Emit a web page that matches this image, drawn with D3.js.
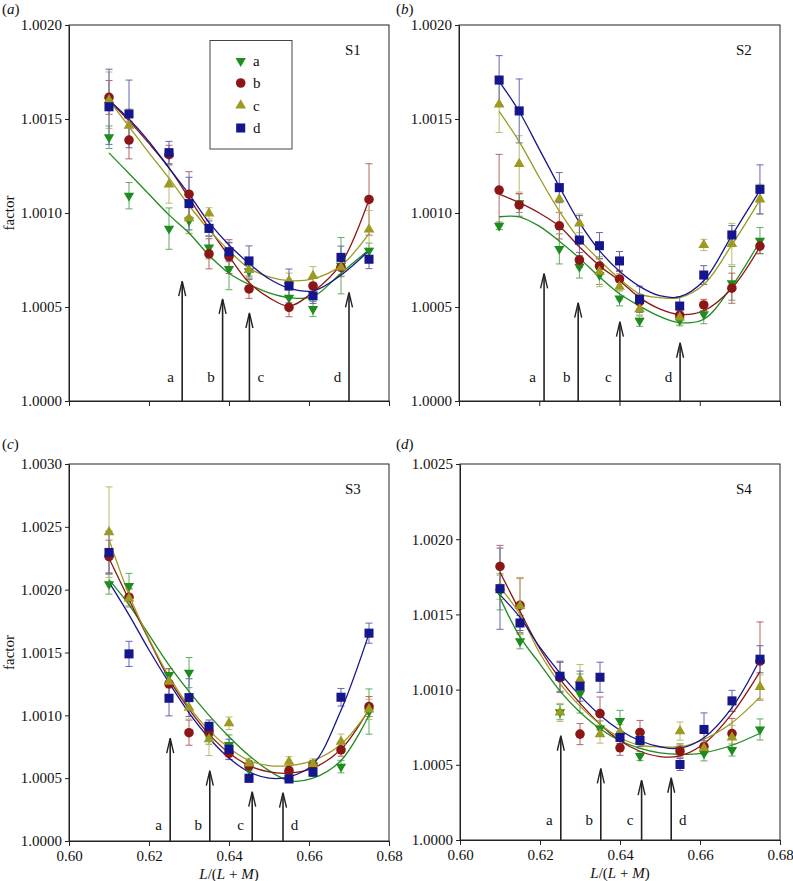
<!DOCTYPE html>
<html><head><meta charset="utf-8">
<script src="https://cdn.jsdelivr.net/npm/d3@7"></script>
<style>
body{margin:0;background:#fff;}
svg text{font-family:"Liberation Serif","Times New Roman",serif;fill:#111;}
</style></head>
<body><svg id="c" width="793" height="881"></svg>
<script>
// ---------- DATA ----------
const xValues = [0.610, 0.615, 0.625, 0.630, 0.635, 0.640, 0.645, 0.655, 0.661, 0.668, 0.675];
const seriesNames = ["a", "b", "c", "d"];
const fitX = [0.610, 0.615, 0.620, 0.625, 0.630, 0.635, 0.640, 0.645, 0.650, 0.655, 0.661, 0.668, 0.675];

// S1
const s1A = [1.001403, 1.001092, 1.000917, 1.00096, 1.000816, 1.000702, 1.00069, 1.00055, 1.000489, 1.00072, 1.0008];
const s1B = [1.001615, 1.001388, 1.00131, 1.0011, 1.000783, 1.000768, 1.000596, 1.000498, 1.000612, 1.000711, 1.001072];
const s1C = [1.0016, 1.001464, 1.001152, 1.000972, 1.000998, 1.00079, 1.000697, 1.00064, 1.000665, 1.00071, 1.000913];
const s1D = [1.001565, 1.001527, 1.001321, 1.00105, 1.000918, 1.000794, 1.000745, 1.000612, 1.000559, 1.000764, 1.000754];
const e1A = [0.00006, 0.00007, 0.00011, 0.00007, 0.00006, 0.00011, 0.00004, 0.00004, 0.00004, 0.00015, 0.00004];
const e1B = [0.00009, 0.0001, 0.00005, 0.00012, 0.00008, 0.00009, 0.00005, 0.00005, 0.00004, 0.00005, 0.00019];
const e1C = [0.00015, 0.00009, 0.0001, 0.00008, 0.00003, 0.00005, 0.00004, 0.00004, 0.00005, 0.00004, 0.0001];
const e1D = [0.0002, 0.00018, 0.00006, 0.00014, 0.00004, 0.00005, 0.00008, 0.00009, 0.00004, 0.00006, 0.00005];
const f1A = [1.00132, 1.00121, 1.0011, 1.00099, 1.000894, 1.000775, 1.00068, 1.00062, 1.000575, 1.00055, 1.000555, 1.00068, 1.000805];
const f1B = [1.0016, 1.00149, 1.00137, 1.00124, 1.00108, 1.00092, 1.00077, 1.00063, 1.00055, 1.000505, 1.00058, 1.00073, 1.00107];
const f1C = [1.0016, 1.00146, 1.00132, 1.001185, 1.00104, 1.00091, 1.0008, 1.000706, 1.00066, 1.00064, 1.00065, 1.00072, 1.00089];
const f1D = [1.0016, 1.0015, 1.00138, 1.00124, 1.0011, 1.00095, 1.00083, 1.000732, 1.00065, 1.0006, 1.000585, 1.00067, 1.0008];

// S2
const s2A = [1.000932, 1.001052, 1.000809, 1.000714, 1.00067, 1.000546, 1.000427, 1.00043, 1.000461, 1.000626, 1.000853];
const s2B = [1.001122, 1.001043, 1.000932, 1.00075, 1.000718, 1.000649, 1.000528, 1.000457, 1.000511, 1.0006, 1.000824];
const s2C = [1.001578, 1.001261, 1.001074, 1.000945, 1.000688, 1.000608, 1.000488, 1.000445, 1.00083, 1.000835, 1.001073];
const s2D = [1.001707, 1.001543, 1.001135, 1.000856, 1.000826, 1.000745, 1.000541, 1.000505, 1.00067, 1.000883, 1.001126];
const e2A = [0.00002, 0.00005, 0.00008, 0.00006, 0.00005, 0.00004, 0.00003, 0.00003, 0.00005, 0.00009, 0.00007];
const e2B = [0.00019, 0.00006, 0.00007, 0.00004, 0.00004, 0.00004, 0.00004, 0.00003, 0.00003, 0.00008, 0.00004];
const e2C = [0.00015, 0.00015, 0.00007, 0.00005, 0.00008, 0.00007, 0.00004, 0.00004, 0.00003, 0.00011, 0.00008];
const e2D = [0.00013, 0.00017, 0.00008, 0.00013, 0.00007, 0.00005, 0.00007, 0.00005, 0.00005, 0.00005, 0.00013];
const f2A = [1.00098, 1.00098, 1.00093, 1.00085, 1.00076, 1.00066, 1.00057, 1.000505, 1.00045, 1.000417, 1.000435, 1.00061, 1.00085];
const f2B = [1.0011, 1.001055, 1.001, 1.00093, 1.00082, 1.00072, 1.00064, 1.00055, 1.00049, 1.00046, 1.00048, 1.0006, 1.00082];
const f2C = [1.00154, 1.00138, 1.00119, 1.00101, 1.00086, 1.00075, 1.00065, 1.00057, 1.00055, 1.00055, 1.00062, 1.00083, 1.00107];
const f2D = [1.0017, 1.00154, 1.00134, 1.00114, 1.00095, 1.0008, 1.00069, 1.00061, 1.00056, 1.000555, 1.00064, 1.00088, 1.00112];

// S3
const s3A = [1.002044, 1.00203, 1.001322, 1.00134, 1.00083, 1.000764, 1.00057, 1.00053, 1.0006, 1.000592, 1.00103];
const s3B = [1.002264, 1.00194, 1.00125, 1.000862, 1.00087, 1.000698, 1.0006, 1.00056, 1.0006, 1.000725, 1.00107];
const s3C = [1.002458, 1.00193, 1.001268, 1.001061, 1.00081, 1.000937, 1.000618, 1.000631, 1.000613, 1.000791, 1.001048];
const s3D = [1.002296, 1.001489, 1.001136, 1.001141, 1.000913, 1.00073, 1.000499, 1.000494, 1.000547, 1.001144, 1.001654];
const e3A = [0.00008, 0.0001, 0.00005, 0.00012, 0.00006, 0.00008, 0.00004, 0.00004, 0.00004, 0.00005, 0.00018];
const e3B = [0.00013, 0.00007, 0.00012, 0.0001, 0.00005, 0.00005, 0.00004, 0.00004, 0.00004, 0.00005, 0.00008];
const e3C = [0.00036, 0.00007, 0.00005, 0.00009, 0.00013, 0.00005, 0.00004, 0.00004, 0.00004, 0.00006, 0.00008];
const e3D = [0.00017, 0.0001, 0.00014, 0.00015, 0.00005, 0.00008, 0.00003, 0.00003, 0.00003, 0.00007, 0.00008];
const f3A = [1.00208, 1.00188, 1.00164, 1.0014, 1.00119, 1.001, 1.00083, 1.00068, 1.00056, 1.00048, 1.0005, 1.00064, 1.001];
const f3B = [1.00225, 1.00192, 1.0016, 1.00129, 1.00105, 1.00085, 1.0007, 1.0006, 1.00055, 1.00054, 1.00058, 1.00073, 1.00105];
const f3C = [1.0024, 1.00196, 1.00161, 1.00131, 1.00107, 1.00088, 1.00074, 1.00064, 1.0006, 1.0006, 1.00064, 1.00077, 1.00104];
const f3D = [1.00206, 1.0018, 1.00152, 1.00126, 1.00102, 1.00082, 1.00066, 1.00055, 1.0005, 1.00051, 1.00061, 1.00104, 1.00165];

// S4
const s4A = [1.00165, 1.001321, 1.00085, 1.000974, 1.000742, 1.000792, 1.000558, 1.0006, 1.000576, 1.000598, 1.000735];
const s4B = [1.001819, 1.00156, 1.00108, 1.000704, 1.000841, 1.000613, 1.000715, 1.000591, 1.00062, 1.000708, 1.00119];
const s4C = [1.00168, 1.001556, 1.000848, 1.001067, 1.000704, 1.000719, 1.00066, 1.000724, 1.00061, 1.000682, 1.001018];
const s4D = [1.001671, 1.001443, 1.001089, 1.001023, 1.001082, 1.000682, 1.000662, 1.000502, 1.000735, 1.000925, 1.001202];
const e4A = [0.00012, 0.00005, 0.00005, 0.00013, 0.00005, 0.00007, 0.00003, 0.00004, 0.00005, 0.00004, 0.00007];
const e4B = [0.00014, 0.00018, 0.0001, 0.00007, 0.00011, 0.00005, 0.00008, 0.00004, 0.00004, 0.0001, 0.00026];
const e4C = [0.00008, 0.00019, 0.00006, 0.0001, 0.00006, 0.00005, 0.00005, 0.00006, 0.00004, 0.00008, 0.00008];
const e4D = [0.00027, 0.00005, 0.0001, 0.0001, 0.0001, 0.00004, 0.00004, 0.00004, 0.00011, 0.00007, 0.00009];
const f4A = [1.00161, 1.00135, 1.00117, 1.00099, 1.00085, 1.00074, 1.00066, 1.00061, 1.00058, 1.00057, 1.00058, 1.00063, 1.00071];
const f4B = [1.00178, 1.00152, 1.00127, 1.00107, 1.00091, 1.00077, 1.00066, 1.00059, 1.000555, 1.00056, 1.00064, 1.00084, 1.00112];
const f4C = [1.00168, 1.0015, 1.00124, 1.00104, 1.00089, 1.00077, 1.00068, 1.00063, 1.00062, 1.00062, 1.00067, 1.00078, 1.00095];
const f4D = [1.00163, 1.00148, 1.00128, 1.00111, 1.00096, 1.00083, 1.00073, 1.00066, 1.00062, 1.00061, 1.00068, 1.00088, 1.0012];

// arrows (x position, top of arrow in factor units), label side
const arrowLabels = ["a", "b", "c", "d"];
const arrow1X = [0.6283, 0.6384, 0.6451, 0.6700], arrow1Top = [1.000638, 1.000543, 1.000468, 1.000578], arrow1Side = [-1, -1, 1, -1];
const arrow2X = [0.6212, 0.6297, 0.6401, 0.6551], arrow2Top = [1.000679, 1.000523, 1.000422, 1.00031], arrow2Side = [-1, -1, -1, -1];
const arrow3X = [0.6253, 0.6352, 0.6458, 0.6535], arrow3Top = [1.000818, 1.00056, 1.000393, 1.000385], arrow3Side = [-1, -1, -1, 1];
const arrow4X = [0.6252, 0.6352, 0.6454, 0.6528], arrow4Top = [1.000693, 1.000476, 1.000398, 1.000414], arrow4Side = [-1, -1, -1, 1];
const arrowLabelY = 1.00013;

const xTicks = [0.60, 0.62, 0.64, 0.66, 0.68];
const yTicks12 = [1.0000, 1.0005, 1.0010, 1.0015, 1.0020];
const yTicks3 = [1.0000, 1.0005, 1.0010, 1.0015, 1.0020, 1.0025, 1.0030];
const yTicks4 = [1.0000, 1.0005, 1.0010, 1.0015, 1.0020, 1.0025];

// ---------- STYLE / LAYOUT ----------
const colors = {a: "#1f8c1f", b: "#8c1616", c: "#9c9a22", d: "#16168c"};
const errColors = {a: "#60ac60", b: "#b46666", c: "#bcba70", d: "#6666b4"};

const panels = [
  {tag: "a", name: "S1", L: 69, R: 389, T: 25, B: 401, tagX: 2, tagY: 14, yTicks: yTicks12, xLabels: false, yTitle: true, legend: true,
   vals: [s1A, s1B, s1C, s1D], errs: [e1A, e1B, e1C, e1D], fits: [f1A, f1B, f1C, f1D],
   ax: arrow1X, at: arrow1Top, as: arrow1Side},
  {tag: "b", name: "S2", L: 459, R: 780, T: 25, B: 401, tagX: 396, tagY: 14, yTicks: yTicks12, xLabels: false, yTitle: false, legend: false,
   vals: [s2A, s2B, s2C, s2D], errs: [e2A, e2B, e2C, e2D], fits: [f2A, f2B, f2C, f2D],
   ax: arrow2X, at: arrow2Top, as: arrow2Side},
  {tag: "c", name: "S3", L: 69, R: 389, T: 464, B: 841, tagX: 2, tagY: 449, yTicks: yTicks3, xLabels: true, yTitle: true, legend: false,
   vals: [s3A, s3B, s3C, s3D], errs: [e3A, e3B, e3C, e3D], fits: [f3A, f3B, f3C, f3D],
   ax: arrow3X, at: arrow3Top, as: arrow3Side},
  {tag: "d", name: "S4", L: 460, R: 780, T: 464, B: 840, tagX: 396, tagY: 449, yTicks: yTicks4, xLabels: true, yTitle: false, legend: false,
   vals: [s4A, s4B, s4C, s4D], errs: [e4A, e4B, e4C, e4D], fits: [f4A, f4B, f4C, f4D],
   ax: arrow4X, at: arrow4Top, as: arrow4Side}
];

const svg = d3.select("#c");
const fmt = d3.format(".4f");

function symFor(s) {
  if (s === "a") return {path: d3.symbol(d3.symbolTriangle, 46)(), rot: 180};
  if (s === "b") return {path: d3.symbol(d3.symbolCircle, 72)(), rot: 0};
  if (s === "c") return {path: d3.symbol(d3.symbolTriangle, 50)(), rot: 0};
  return {path: d3.symbol(d3.symbolSquare, 82)(), rot: 0};
}

panels.forEach(p => {
  const x = d3.scaleLinear().domain([0.60, 0.68]).range([p.L, p.R]);
  const y = d3.scaleLinear().domain([p.yTicks[0], p.yTicks[p.yTicks.length - 1]]).range([p.B, p.T]);
  const g = svg.append("g");

  // frame
  g.append("rect").attr("x", p.L).attr("y", p.T).attr("width", p.R - p.L).attr("height", p.B - p.T)
    .attr("fill", "none").attr("stroke", "#222").attr("stroke-width", 1);

  // axes
  const ya = g.append("g").attr("transform", `translate(${p.L},0)`)
    .call(d3.axisLeft(y).tickValues(p.yTicks).tickFormat(fmt).tickSize(4).tickPadding(3).tickSizeOuter(0));
  const xa = g.append("g").attr("transform", `translate(0,${p.B})`)
    .call(d3.axisBottom(x).tickValues(xTicks).tickFormat(p.xLabels ? d3.format(".2f") : "").tickSize(5).tickPadding(4).tickSizeOuter(0));
  [ya, xa].forEach(a => {
    a.attr("font-family", null).attr("font-size", null);
    a.select(".domain").attr("stroke", "#222");
    a.selectAll("line").attr("stroke", "#222");
    a.selectAll("text").attr("font-size", 15).attr("fill", "#111");
  });

  // panel tag
  const tg = svg.append("text").attr("x", p.tagX).attr("y", p.tagY).attr("font-size", 15);
  tg.append("tspan").text("(");
  tg.append("tspan").attr("font-style", "italic").text(p.tag);
  tg.append("tspan").text(")");

  // series name
  g.append("text").attr("x", p.R - 44).attr("y", p.T + 30).attr("font-size", 15).text(p.name);

  if (p.yTitle) {
    g.append("text").attr("transform", `translate(14,${(p.T + p.B) / 2}) rotate(-90)`)
      .attr("text-anchor", "middle").attr("font-size", 15).text("factor");
  }
  if (p.xLabels) {
    const t = g.append("text").attr("x", (p.L + p.R) / 2).attr("y", p.B + 38).attr("text-anchor", "middle").attr("font-size", 15);
    t.append("tspan").attr("font-style", "italic").text("L");
    t.append("tspan").text("/(");
    t.append("tspan").attr("font-style", "italic").text("L");
    t.append("tspan").text(" + ");
    t.append("tspan").attr("font-style", "italic").text("M");
    t.append("tspan").text(")");
  }

  // arrows
  arrowLabels.forEach((lab, i) => {
    const ax = x(p.ax[i]), top = y(p.at[i]);
    g.append("line").attr("x1", ax).attr("x2", ax).attr("y1", p.B).attr("y2", top + 1)
      .attr("stroke", "#222").attr("stroke-width", 1.6);
    g.append("path").attr("d", `M${ax - 3.5},${top + 15} L${ax},${top} L${ax + 3.5},${top + 15}`)
      .attr("fill", "none").attr("stroke", "#222").attr("stroke-width", 1.4);
    g.append("text").attr("x", ax + p.as[i] * 11.5).attr("y", y(arrowLabelY) + 5)
      .attr("text-anchor", "middle").attr("font-size", 15).text(lab);
  });

  // error bars
  seriesNames.forEach((s, k) => {
    const vals = p.vals[k], errs = p.errs[k];
    const eg = g.append("g").attr("stroke", errColors[s]).attr("stroke-width", 1);
    xValues.forEach((xv, i) => {
      const cx = x(xv), y1 = y(vals[i] + errs[i]), y2 = y(vals[i] - errs[i]);
      eg.append("line").attr("x1", cx).attr("x2", cx).attr("y1", y1).attr("y2", y2);
      eg.append("line").attr("x1", cx - 3.5).attr("x2", cx + 3.5).attr("y1", y1).attr("y2", y1);
      eg.append("line").attr("x1", cx - 3.5).attr("x2", cx + 3.5).attr("y1", y2).attr("y2", y2);
    });
  });

  // fitted curves
  const line = d3.line().x(d => x(d[0])).y(d => y(d[1])).curve(d3.curveCatmullRom.alpha(0.5));
  seriesNames.forEach((s, k) => {
    g.append("path").datum(fitX.map((xv, i) => [xv, p.fits[k][i]]))
      .attr("d", line).attr("fill", "none").attr("stroke", colors[s]).attr("stroke-width", 1.3);
  });

  // markers
  seriesNames.forEach((s, k) => {
    const sym = symFor(s);
    xValues.forEach((xv, i) => {
      g.append("path").attr("d", sym.path)
        .attr("transform", `translate(${x(xv)},${y(p.vals[k][i])}) rotate(${sym.rot})`)
        .attr("fill", colors[s]);
    });
  });

  // legend
  if (p.legend) {
    const lg = g.append("g");
    lg.append("rect").attr("x", 210).attr("y", 40.5).attr("width", 82).attr("height", 108.5)
      .attr("fill", "#fff").attr("stroke", "#444").attr("stroke-width", 1);
    const ly = [61, 83, 105.5, 128];
    seriesNames.forEach((s, k) => {
      const sym = symFor(s);
      lg.append("path").attr("d", sym.path)
        .attr("transform", `translate(240.7,${ly[k]}) rotate(${sym.rot})`).attr("fill", colors[s]);
      lg.append("text").attr("x", 253).attr("y", ly[k] + 5).attr("font-size", 15).text(s);
    });
  }
});
</script></body></html>
